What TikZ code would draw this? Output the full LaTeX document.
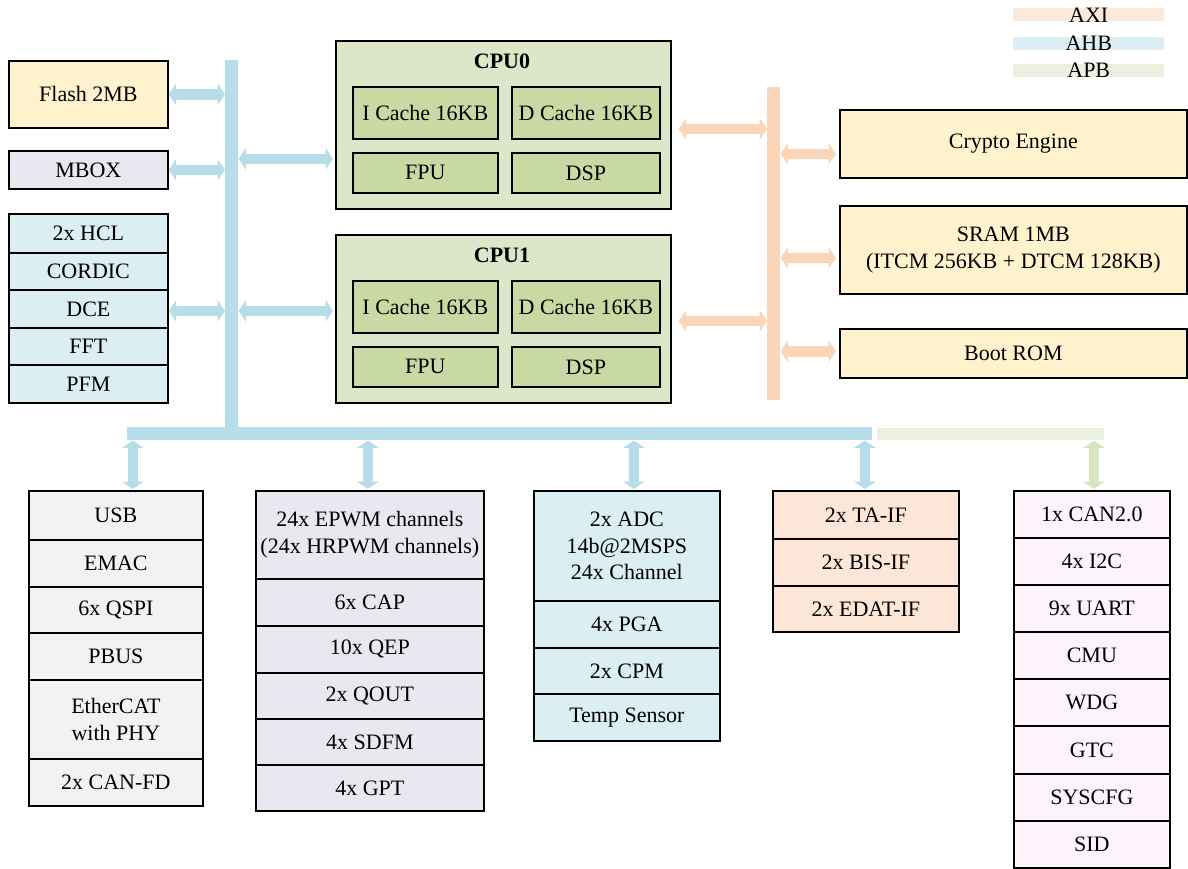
\documentclass[tikz,border=0pt]{standalone}
\usepackage{fontspec}
\setmainfont{Liberation Serif}
\usetikzlibrary{arrows.meta,calc}
\definecolor{flashc}{HTML}{FFF2CC}
\definecolor{lavc}{HTML}{EAE7F0}
\definecolor{bluec}{HTML}{DAEEF3}
\definecolor{greyc}{HTML}{F2F2F2}
\definecolor{peachc}{HTML}{FCE6D7}
\definecolor{pinkc}{HTML}{FDF3FA}
\definecolor{cpuc}{HTML}{DCE6C9}
\definecolor{cpuin}{HTML}{C8D9A4}
\definecolor{ahbc}{HTML}{B7DDE8}
\definecolor{axic}{HTML}{FAD5B8}
\definecolor{apbc}{HTML}{EBF1DE}
\definecolor{apbarr}{HTML}{D7E4BD}
\definecolor{legaxi}{HTML}{FDE9DA}
\definecolor{legahb}{HTML}{DAEEF3}
\definecolor{legapb}{HTML}{EBF1DE}
\tikzset{
  blk/.style={draw=black, line width=1.3pt, inner sep=0pt, align=center, anchor=north west,
    font=\fontsize{16.5}{20}\selectfont},
  busbar/.style={draw=none, inner sep=0pt, anchor=north west},
  legbar/.style={draw=none, inner sep=0pt, anchor=north west, font=\fontsize{16.5}{20}\selectfont},
  barrow/.style={line width=8pt, {Triangle[length=5.5pt,width=16pt]}-{Triangle[length=5.5pt,width=16pt]}},
}
% name, x1, y1, x2, y2, fill, text
\newcommand{\bx}[7]{\node[blk, fill=#6, minimum width={(#4-#2)*0.75pt}, minimum height={(#5-#3)*0.75pt}] (#1) at (#2,#3) {#7};}
\newcommand{\busbar}[6]{\node[busbar, fill=#6, minimum width={(#4-#2)*0.75pt}, minimum height={(#5-#3)*0.75pt}] (#1) at (#2,#3) {};}
\begin{document}
\begin{tikzpicture}[x=0.75pt,y=-0.75pt]
\useasboundingbox (0,0) rectangle (1188,868);
% legend
\node[legbar, fill=legaxi, minimum width={151*0.75pt}, minimum height={13*0.75pt}] (legaxi) at (1013,8) {};
\node at (legaxi.center) [font=\fontsize{16.5}{20}\selectfont] (tAXI) {AXI};
\node[legbar, fill=legahb, minimum width={151*0.75pt}, minimum height={13*0.75pt}] (legahb) at (1013,37) {};
\node at (legahb.center) [font=\fontsize{16.5}{20}\selectfont] (tAHB) {AHB};
\node[legbar, fill=legapb, minimum width={151*0.75pt}, minimum height={13*0.75pt}] (legapb) at (1013,64) {};
\node at (legapb.center) [font=\fontsize{16.5}{20}\selectfont] (tAPB) {APB};

% buses
\busbar{ahbv}{225}{60}{238}{440}{ahbc}
\busbar{ahbh}{127}{427}{872}{440}{ahbc}
\busbar{apbh}{877}{428}{1104}{440}{apbc}
\busbar{axiv}{767}{87}{780}{400}{axic}

% left column
\bx{flash}{8}{60}{167}{127}{flashc}{Flash 2MB}
\bx{mbox}{8}{150}{167}{188}{lavc}{MBOX}
\bx{hcl}{8}{213}{167}{252}{bluec}{2x HCL}
\bx{cordic}{8}{252}{167}{289}{bluec}{CORDIC}
\bx{dce}{8}{289}{167}{327}{bluec}{DCE}
\bx{fft}{8}{327}{167}{364}{bluec}{FFT}
\bx{pfm}{8}{364}{167}{402}{bluec}{PFM}

% CPU0
\bx{cpu0}{335}{40}{670}{208}{cpuc}{}
\node[font=\bfseries\fontsize{16.5}{20}\selectfont] (cpu0t) at (502,61) {CPU0};
\bx{ic0}{352}{86}{497}{138}{cpuin}{I Cache 16KB}
\bx{dc0}{511}{86}{659}{138}{cpuin}{D Cache 16KB}
\bx{fpu0}{352}{152}{497}{192}{cpuin}{FPU}
\bx{dsp0}{511}{152}{659}{192}{cpuin}{DSP}
% CPU1
\bx{cpu1}{335}{234}{670}{402}{cpuc}{}
\node[font=\bfseries\fontsize{16.5}{20}\selectfont] (cpu1t) at (502,255) {CPU1};
\bx{ic1}{352}{280}{497}{332}{cpuin}{I Cache 16KB}
\bx{dc1}{511}{280}{659}{332}{cpuin}{D Cache 16KB}
\bx{fpu1}{352}{346}{497}{386}{cpuin}{FPU}
\bx{dsp1}{511}{346}{659}{386}{cpuin}{DSP}

% right column
\bx{crypto}{839}{109}{1186}{177}{flashc}{Crypto Engine}
\bx{sram}{839}{205}{1186}{293}{flashc}{SRAM 1MB\\ (ITCM 256KB + DTCM 128KB)}
\bx{boot}{839}{328}{1186}{377}{flashc}{Boot ROM}

% bottom col1
\bx{usb}{28}{490}{202}{539}{greyc}{USB}
\bx{emac}{28}{539}{202}{586}{greyc}{EMAC}
\bx{qspi}{28}{586}{202}{632}{greyc}{6x QSPI}
\bx{pbus}{28}{632}{202}{679}{greyc}{PBUS}
\bx{ecat}{28}{679}{202}{758}{greyc}{EtherCAT\\with PHY}
\bx{canfd}{28}{758}{202}{805}{greyc}{2x CAN-FD}
% col2
\bx{epwm}{255}{490}{483}{578}{lavc}{24x EPWM channels\\(24x HRPWM channels)}
\bx{cap}{255}{578}{483}{625}{lavc}{6x CAP}
\bx{qep}{255}{625}{483}{672}{lavc}{10x QEP}
\bx{qout}{255}{672}{483}{718}{lavc}{2x QOUT}
\bx{sdfm}{255}{718}{483}{764}{lavc}{4x SDFM}
\bx{gpt}{255}{764}{483}{810}{lavc}{4x GPT}
% col3
\bx{adc}{533}{490}{719}{600}{bluec}{2x ADC\\14b@2MSPS\\24x Channel}
\bx{pga}{533}{600}{719}{647}{bluec}{4x PGA}
\bx{cpm}{533}{647}{719}{693}{bluec}{2x CPM}
\bx{temp}{533}{693}{719}{740}{bluec}{Temp Sensor}
% col4
\bx{ta}{772}{490}{958}{538}{peachc}{2x TA-IF}
\bx{bis}{772}{538}{958}{585}{peachc}{2x BIS-IF}
\bx{edat}{772}{585}{958}{631}{peachc}{2x EDAT-IF}
% col5
\bx{can}{1013}{490}{1169}{537}{pinkc}{1x CAN2.0}
\bx{iic}{1013}{537}{1169}{584}{pinkc}{4x I2C}
\bx{uart}{1013}{584}{1169}{631}{pinkc}{9x UART}
\bx{cmu}{1013}{631}{1169}{678}{pinkc}{CMU}
\bx{wdg}{1013}{678}{1169}{725}{pinkc}{WDG}
\bx{gtc}{1013}{725}{1169}{773}{pinkc}{GTC}
\bx{syscfg}{1013}{773}{1169}{820}{pinkc}{SYSCFG}
\bx{sid}{1013}{820}{1169}{867}{pinkc}{SID}

% AHB arrows (left)
\draw[barrow, ahbc] (flash.east) -- (flash.east -| ahbv.west);
\draw[barrow, ahbc] (mbox.east) -- (mbox.east -| ahbv.west);
\draw[barrow, ahbc] ([yshift=-1.5pt]dce.east) -- ([yshift=-1.5pt]dce.east -| ahbv.west);
\path (cpu0.west) ++(0,34) coordinate (c0a);
\path (cpu1.west) ++(0,-8) coordinate (c1a);
\draw[barrow, ahbc] (ahbv.east |- c0a) -- ([xshift=-1.5pt]c0a);
\draw[barrow, ahbc] (ahbv.east |- c1a) -- ([xshift=-1.5pt]c1a);

% AXI arrows
\path (cpu0.east) ++(7,4) coordinate (x0a);
\path (cpu1.east) ++(7,2) coordinate (x1a);
\draw[barrow, axic] (x0a) -- (x0a -| axiv.west);
\draw[barrow, axic] (x1a) -- (x1a -| axiv.west);
\path (crypto.west) ++(-3,10) coordinate (cra);
\path (sram.west) ++(-3,8) coordinate (sra);
\path (boot.west) ++(-3,-2) coordinate (bra);
\draw[barrow, axic] (axiv.east |- cra) -- (cra);
\draw[barrow, axic] (axiv.east |- sra) -- (sra);
\draw[barrow, axic] (axiv.east |- bra) -- (bra);

% bottom arrows
\path (usb.north) ++(17,-1) coordinate (ua);
\path (epwm.north) ++(-2,-1) coordinate (ea);
\path (adc.north) ++(7,-1) coordinate (aa);
\path (ta.north) ++(-1,-1) coordinate (ta1);
\path (can.north) ++(2,-1) coordinate (ca);
\draw[barrow, ahbc] (ua |- ahbh.south) -- (ua);
\draw[barrow, ahbc] (ea |- ahbh.south) -- (ea);
\draw[barrow, ahbc] (aa |- ahbh.south) -- (aa);
\draw[barrow, ahbc] (ta1 |- ahbh.south) -- (ta1);
\draw[barrow, apbarr] (ca |- apbh.south) -- (ca);
\end{tikzpicture}
\end{document}
